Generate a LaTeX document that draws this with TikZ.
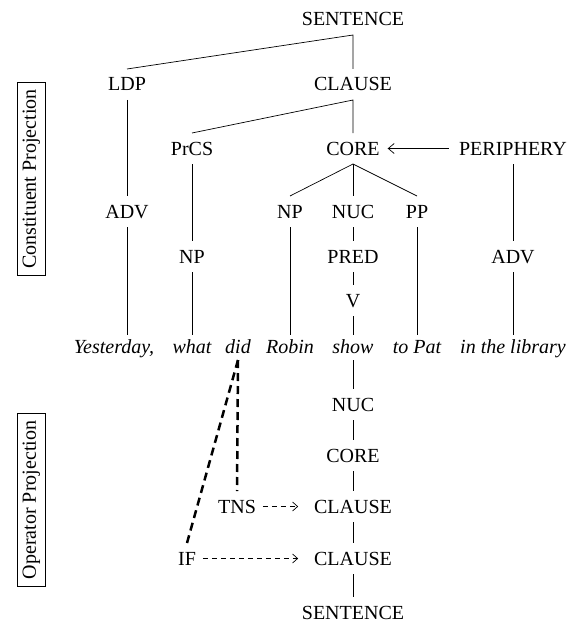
\documentclass[tikz,border=0pt]{standalone}
\usepackage{fontspec}
\setmainfont{Liberation Serif}
\usetikzlibrary{arrows.meta}
\begin{document}
\begin{tikzpicture}[x=1pt,y=-1pt,
    lab/.style={anchor=base, font=\fontsize{20}{24}\selectfont, inner xsep=1pt, inner ysep=0pt,
      text height=13pt, text depth=0pt, outer xsep=6pt, outer ysep=9pt},
    wd/.style={lab, font=\fontsize{20}{24}\selectfont\itshape, text depth=2pt, outer ysep=5pt},
    proj/.style={draw, rotate=90, font=\fontsize{20}{24}\selectfont, line width=0.8pt,
      inner xsep=7pt, inner ysep=5pt},
    link/.style={line width=0.7pt},
    opline/.style={line width=2.5pt, dash pattern=on 8pt off 5pt},
    oparrow/.style={-{Straight Barb[length=5pt,width=9pt]}, line width=0.7pt,
      dash pattern=on 5pt off 4pt}]
        \useasboundingbox (0,0) rectangle (575,623);

        % constituent projection
        \node [lab] (s1) at (353, 26) {SENTENCE};
        \node [lab] (ldp) at (127, 91) {LDP};
        \node [lab] (cl1) at (353, 91) {CLAUSE};
        \node [lab] (prcs) at (192, 155) {PrCS};
        \node [lab] (core1) at (353, 155) {CORE};
        \node [lab] (peri) at (513, 155) {PERIPHERY};
        \node [lab] (adv1) at (127, 218) {ADV};
        \node [lab] (np1) at (290, 218) {NP};
        \node [lab] (nuc1) at (353, 218) {NUC};
        \node [lab] (pp) at (417, 218) {PP};
        \node [lab] (np2) at (192, 263) {NP};
        \node [lab] (pred) at (353, 263) {PRED};
        \node [lab] (adv2) at (513, 263) {ADV};
        \node [lab] (v) at (353, 307) {V};

        % sentence
        \node [wd] (yest) at (114, 353) {Yesterday,};
        \node [wd] (what) at (192, 353) {what};
        \node [wd] (did) at (238, 353) {did};
        \node [wd] (robin) at (290, 353) {Robin};
        \node [wd] (show) at (353, 353) {show};
        \node [wd] (topat) at (417, 353) {to Pat};
        \node [wd] (lib) at (513, 353) {in the library};

        % operator projection
        \node [lab] (nuc2) at (353, 411) {NUC};
        \node [lab] (core2) at (353, 462) {CORE};
        \node [lab] (tns) at (237, 513) {TNS};
        \node [lab] (cl2) at (353, 513) {CLAUSE};
        \node [lab] (if) at (187, 565) {IF};
        \node [lab] (cl3) at (353, 565) {CLAUSE};
        \node [lab] (s2) at (353, 619) {SENTENCE};

        \node [proj] (cproj) at (31.5, 179) {Constituent Projection};
        \node [proj] (oproj) at (31.5, 500) {Operator Projection};

        \draw [link] (ldp.north) -- (s1.south) -- (cl1.north);
        \draw [link] (prcs.north) -- (cl1.south) -- (core1.north);
        \draw [link, {Straight Barb[length=6pt,width=10pt]}-, shorten <=1pt, shorten >=3pt] (core1.east) -- (peri.west);
        \draw [link] (np1.north) -- (core1.south) -- (pp.north);
        \draw [link] (core1.south) -- (nuc1.north);
        \draw [link] (ldp.south) -- (adv1.north);
        \draw [link] (adv1.south) -- (adv1.south |- yest.north);
        \draw [link] (prcs.south) -- (np2.north);
        \draw [link] (np2.south) -- (what.north);
        \draw [link] (np1.south) -- (robin.north);
        \draw [link] (nuc1.south) -- (pred.north);
        \draw [link] (pred.south) -- (v.north);
        \draw [link] (v.south) -- (show.north);
        \draw [link] (pp.south) -- (topat.north);
        \draw [link] (peri.south) -- (adv2.north);
        \draw [link] (adv2.south) -- (lib.north);

        \draw [link] (show.south) -- (nuc2.north);
        \draw [link] (nuc2.south) -- (core2.north);
        \draw [link] (core2.south) -- (cl2.north);
        \draw [link] (cl2.south) -- (cl3.north);
        \draw [link] (cl3.south) -- (s2.north);

        \draw [opline] (did.south) -- (tns.north);
        \draw [opline] (did.south) -- (if.north);
        \draw [oparrow, shorten >=9pt] (tns.east) -- (cl2.west);
        \draw [oparrow, shorten >=9pt] (if.east) -- (cl3.west);
    \end{tikzpicture}
\end{document}
